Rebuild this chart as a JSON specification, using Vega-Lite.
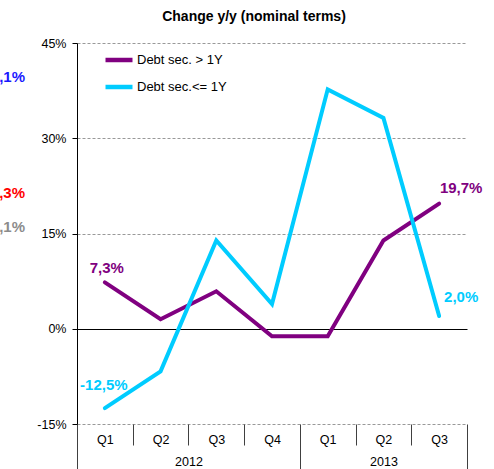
{
  "$schema": "https://vega.github.io/schema/vega-lite/v6.json",
  "width": 390,
  "height": 381,
  "autosize": {"type": "none"},
  "padding": {"left": 77, "top": 43, "right": 27, "bottom": 45},
  "background": "white",
  "config": {"font": "Liberation Sans", "view": {"stroke": null}, "axisX": {"labelOverlap": false}},
  "title": {"text": "Change y/y (nominal terms)", "fontSize": 14, "fontWeight": "bold", "color": "#000", "anchor": "middle", "dx": -18, "offset": 2, "baseline": "alphabetic"},
  "datasets": {
    "series": [
      {"q": "Q1 2012", "x": 0.5, "v": 7.3, "s": "Debt sec. > 1Y"},
      {"q": "Q2 2012", "x": 1.5, "v": 1.5, "s": "Debt sec. > 1Y"},
      {"q": "Q3 2012", "x": 2.5, "v": 5.9, "s": "Debt sec. > 1Y"},
      {"q": "Q4 2012", "x": 3.5, "v": -1.2, "s": "Debt sec. > 1Y"},
      {"q": "Q1 2013", "x": 4.5, "v": -1.2, "s": "Debt sec. > 1Y"},
      {"q": "Q2 2013", "x": 5.5, "v": 13.9, "s": "Debt sec. > 1Y"},
      {"q": "Q3 2013", "x": 6.5, "v": 19.7, "s": "Debt sec. > 1Y"},
      {"q": "Q1 2012", "x": 0.5, "v": -12.5, "s": "Debt sec.<= 1Y"},
      {"q": "Q2 2012", "x": 1.5, "v": -6.7, "s": "Debt sec.<= 1Y"},
      {"q": "Q3 2012", "x": 2.5, "v": 13.9, "s": "Debt sec.<= 1Y"},
      {"q": "Q4 2012", "x": 3.5, "v": 3.9, "s": "Debt sec.<= 1Y"},
      {"q": "Q1 2013", "x": 4.5, "v": 37.7, "s": "Debt sec.<= 1Y"},
      {"q": "Q2 2013", "x": 5.5, "v": 33.2, "s": "Debt sec.<= 1Y"},
      {"q": "Q3 2013", "x": 6.5, "v": 2.0, "s": "Debt sec.<= 1Y"}
    ],
    "labels": [
      {"x": 0.5, "v": 7.3, "t": "7,3%"},
      {"x": 0.5, "v": -12.5, "t": "-12,5%"},
      {"x": 6.5, "v": 19.7, "t": "19,7%"},
      {"x": 6.5, "v": 2.0, "t": "2,0%"}
    ],
    "side": [
      {"x": -0.933, "v": 39.7, "t": ",1%", "g": "a"},
      {"x": -0.933, "v": 21.4, "t": ",3%", "g": "b"},
      {"x": -0.933, "v": 16.1, "t": ",1%", "g": "c"}
    ]
  },
  "encoding": {
    "x": {
      "field": "x", "type": "quantitative",
      "scale": {"domain": [0, 7], "nice": false, "zero": false},
      "axis": {
        "values": [0, 0.5, 1, 1.5, 2, 2.5, 3, 3.5, 4, 4.5, 5, 5.5, 6, 6.5, 7],
        "title": null, "domain": false, "grid": false,
        "tickColor": {"condition": {"test": "datum.value % 1 != 0", "value": "transparent"}, "value": "#404040"},
        "tickSize": {"condition": {"test": "datum.value == 0 || datum.value == 4 || datum.value == 7", "value": 45}, "value": 21},
        "labelExpr": "datum.value == 2 ? [' ', '2012'] : datum.value == 5.5 ? ['Q2', '2013'] : datum.value == 0.5 ? 'Q1' : datum.value == 1.5 ? 'Q2' : datum.value == 2.5 ? 'Q3' : datum.value == 3.5 ? 'Q4' : datum.value == 4.5 ? 'Q1' : datum.value == 6.5 ? 'Q3' : ''",
        "labelBaseline": "top", "labelPadding": -12, "labelLineHeight": 22,
        "labelFontSize": 12.5, "labelColor": "#000",
        "labelOverlap": false, "labelBound": false, "labelFlush": false
      }
    },
    "y": {
      "field": "v", "type": "quantitative",
      "scale": {"domain": [-15, 45], "nice": false},
      "axis": {
        "values": [-15, 0, 15, 30, 45], "title": null,
        "labelExpr": "datum.value + '%'",
        "grid": true,
        "gridColor": {"condition": {"test": "datum.value == 0", "value": "#000"}, "value": "#999"},
        "gridDash": {"condition": {"test": "datum.value == 0", "value": []}, "value": [3, 2]},
        "gridWidth": 1,
        "domainColor": "#000", "domainWidth": 1,
        "tickColor": "#000", "tickSize": 5, "labelPadding": 6,
        "labelFontSize": 12.5, "labelColor": "#000"
      }
    }
  },
  "layer": [
    {
      "data": {"name": "series"},
      "mark": {"type": "line", "strokeWidth": 4, "strokeCap": "round"},
      "encoding": {
        "color": {
          "field": "s", "type": "nominal",
          "scale": {"domain": ["Debt sec. > 1Y", "Debt sec.<= 1Y"], "range": ["#800080", "#00CCFF"]},
          "legend": {
            "orient": "none", "legendX": 26, "legendY": 1, "title": null,
            "symbolType": "stroke", "symbolStrokeWidth": 4.5, "symbolSize": 729,
            "labelFontSize": 13, "labelOffset": 2, "rowPadding": 2, "padding": 0,
            "labelColor": "#000"
          }
        }
      }
    },
    {
      "data": {"name": "labels"},
      "transform": [{"filter": "datum.t == '7,3%'"}],
      "mark": {"type": "text", "color": "#800080", "fontWeight": "bold", "fontSize": 15, "dx": 2, "dy": -14},
      "encoding": {"text": {"field": "t"}}
    },
    {
      "data": {"name": "labels"},
      "transform": [{"filter": "datum.t == '-12,5%'"}],
      "mark": {"type": "text", "color": "#00CCFF", "fontWeight": "bold", "fontSize": 15, "dx": -1, "dy": -23},
      "encoding": {"text": {"field": "t"}}
    },
    {
      "data": {"name": "labels"},
      "transform": [{"filter": "datum.t == '19,7%'"}],
      "mark": {"type": "text", "color": "#800080", "fontWeight": "bold", "fontSize": 15, "dx": 22, "dy": -16},
      "encoding": {"text": {"field": "t"}}
    },
    {
      "data": {"name": "labels"},
      "transform": [{"filter": "datum.t == '2,0%'"}],
      "mark": {"type": "text", "color": "#00CCFF", "fontWeight": "bold", "fontSize": 15, "dx": 22, "dy": -19},
      "encoding": {"text": {"field": "t"}}
    },
    {
      "data": {"name": "side"},
      "transform": [{"filter": "datum.g == 'a'"}],
      "mark": {"type": "text", "color": "#1a1aff", "fontWeight": "bold", "fontSize": 15, "align": "right"},
      "encoding": {"text": {"field": "t"}}
    },
    {
      "data": {"name": "side"},
      "transform": [{"filter": "datum.g == 'b'"}],
      "mark": {"type": "text", "color": "#ff0000", "fontWeight": "bold", "fontSize": 15, "align": "right"},
      "encoding": {"text": {"field": "t"}}
    },
    {
      "data": {"name": "side"},
      "transform": [{"filter": "datum.g == 'c'"}],
      "mark": {"type": "text", "color": "#8c8c8c", "fontWeight": "bold", "fontSize": 15, "align": "right"},
      "encoding": {"text": {"field": "t"}}
    }
  ]
}
